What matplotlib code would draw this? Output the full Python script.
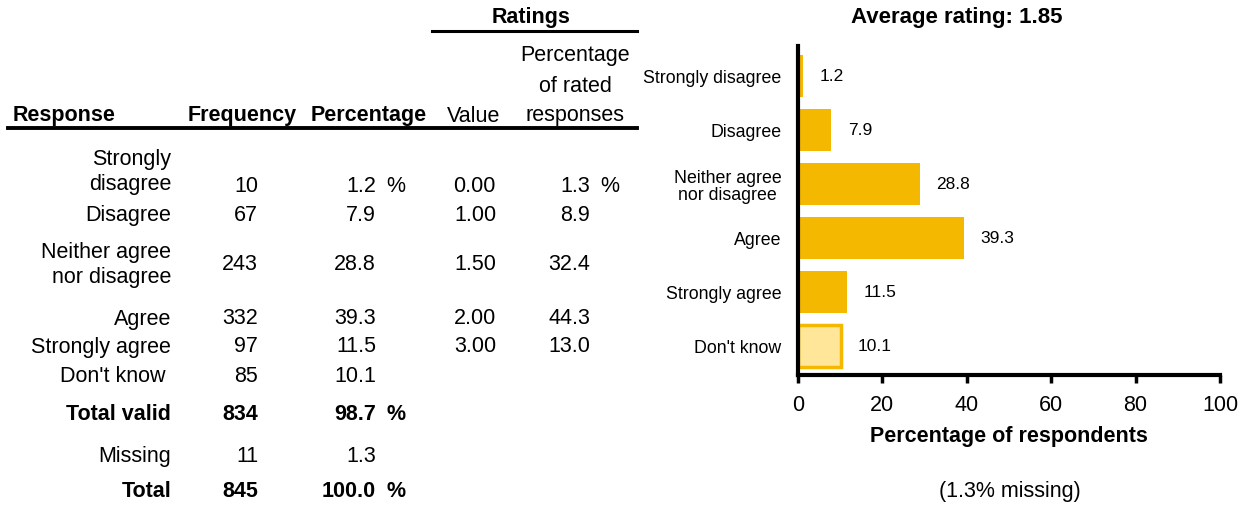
import matplotlib
matplotlib.use("Agg")
import matplotlib.pyplot as plt
from matplotlib.lines import Line2D

plt.rcParams['font.family'] = ['Liberation Sans', 'DejaVu Sans']

# survey results
responses = ["Strongly\ndisagree", "Disagree", "Neither agree\nnor disagree",
             "Agree", "Strongly agree", "Don't know"]
bar_labels = ["Strongly disagree", "Disagree", "Neither agree\nnor disagree",
              "Agree", "Strongly agree", "Don't know"]
frequency = [10, 67, 243, 332, 97, 85]
percentage = [1.2, 7.9, 28.8, 39.3, 11.5, 10.1]
rating_values = [0.00, 1.00, 1.50, 2.00, 3.00]
rated_pct = [1.3, 8.9, 32.4, 44.3, 13.0]
total_valid = (834, 98.7)
missing = (11, 1.3)
total = (845, 100.0)
average_rating = 1.85
missing_pct = 1.3

W, H = 1247, 506
fig = plt.figure(figsize=(W / 100, H / 100), dpi=100)


def px(x, y):
    return x / W, 1 - y / H


def txt(x, y, s, ha='right', size=15.5, weight='normal', **kw):
    fig.text(*px(x, y), s, ha=ha, va='center', fontsize=size, weight=weight, **kw)


# ---- table on the left ----
txt(531, 17, "Ratings", ha='center', weight='bold')
fig.add_artist(Line2D([432 / W, 637 / W], [1 - 32 / H] * 2, color='black', lw=2.2))
txt(575, 55, "Percentage", ha='center')
txt(575, 86, "of rated", ha='center')
txt(575, 116, "responses", ha='center')
txt(13, 116, "Response", ha='left', weight='bold')
txt(297, 116, "Frequency", weight='bold')
txt(427, 116, "Percentage", weight='bold')
txt(500, 116, "Value")
fig.add_artist(Line2D([8 / W, 637 / W], [1 - 129 / H] * 2, color='black', lw=2.8))

label_y = [172, 216, 265, 319, 347, 377]
value_y = [186, 216, 265, 319, 347, 377]
x_resp, x_freq, x_pct, x_val, x_rated = 171, 258, 376, 496, 590

for i, r in enumerate(responses):
    rx = x_resp - 5 if r == "Don't know" else x_resp
    txt(rx, label_y[i], r, linespacing=1.3)
    txt(x_freq, value_y[i], f"{frequency[i]}")
    txt(x_pct, value_y[i], f"{percentage[i]:.1f}")
    if i < len(rating_values):
        txt(x_val, value_y[i], f"{rating_values[i]:.2f}")
        txt(x_rated, value_y[i], f"{rated_pct[i]:.1f}")
txt(386, value_y[0], "%", ha='left')
txt(600, value_y[0], "%", ha='left')

for y, name, (f, p), bold in [(414, "Total valid", total_valid, True),
                              (457, "Missing", missing, False),
                              (492, "Total", total, True)]:
    w = 'bold' if bold else 'normal'
    txt(x_resp, y, name, weight=w)
    txt(x_freq, y, f"{f}", weight=w)
    txt(x_pct, y, f"{p:.1f}", weight=w)
    if bold:
        txt(386, y, "%", ha='left', weight=w)

# ---- bar chart on the right ----
ax = fig.add_axes([798 / W, 1 - 376 / H, (1220 - 798) / W, (376 - 47) / H])
gold = '#F5B800'
ypos = list(range(len(percentage)))
colors = [gold] * 5 + ['#FFE699']
bars = ax.barh(ypos, percentage, height=0.78, color=colors, edgecolor=gold, linewidth=0)
bars[-1].set_linewidth(2.5)
for y, v in zip(ypos, percentage):
    ax.text(v + 4, y, f"{v:.1f}", va='center', ha='left', fontsize=12.5)

ax.set_xlim(0, 100)
ax.set_ylim(5.54, -0.55)
ax.set_yticks(ypos)
ax.set_yticklabels(bar_labels, fontsize=12.8, linespacing=1.0)
ax.get_yticklabels()[2].set_multialignment('center')
ax.tick_params(axis='y', length=0, pad=12)
ax.set_xticks(range(0, 101, 20))
ax.tick_params(axis='x', length=6, width=2.5, direction='out', labelsize=15.5, pad=8)
for s in ['top', 'right']:
    ax.spines[s].set_visible(False)
for s in ['left', 'bottom']:
    ax.spines[s].set_linewidth(3)
ax.set_xlabel("Percentage of respondents", fontsize=15.5, weight='bold', labelpad=7)

txt(957, 17, f"Average rating: {average_rating:.2f}", ha='center', size=16, weight='bold')
txt(1010, 492, f"({missing_pct}% missing)", ha='center')

fig.savefig("out.png", dpi=100)
